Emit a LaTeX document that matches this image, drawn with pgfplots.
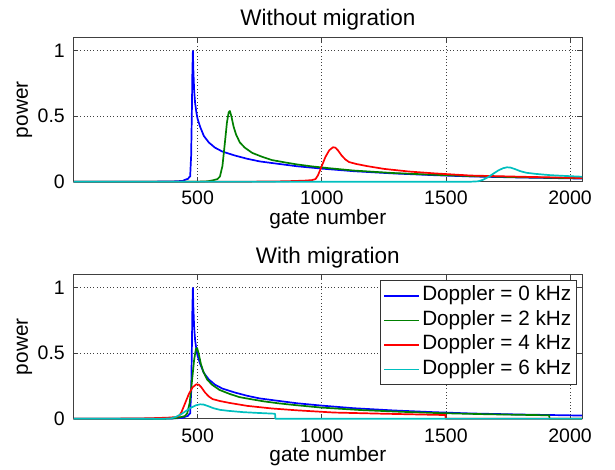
\documentclass[border=0pt]{standalone}
\usepackage{fontspec}
\setmainfont{Liberation Sans}
\usepackage{pgfplots}
\pgfplotsset{compat=1.18}
\usepackage{pgfplotstable}
\definecolor{mblue}{rgb}{0,0,1}
\definecolor{mgreen}{rgb}{0,0.5,0}
\definecolor{mred}{rgb}{1,0,0}
\definecolor{mcyan}{rgb}{0,0.75,0.75}

% ---------- data: Without migration ----------
\pgfplotstableread{
x y
1 0
300 0
400 0.002
440 0.006
450 0.015
458 0.02
462 0.022
466 0.035
470 0.04
474 0.2
477 0.55
479 0.85
481 1.0
483 0.85
486 0.7
490 0.6
495 0.53
500 0.48
510 0.42
525 0.35
545 0.3
570 0.26
600 0.23
650 0.2
700 0.175
750 0.155
810 0.14
900 0.118
1000 0.1
1130 0.08
1290 0.063
1450 0.05
1600 0.04
1800 0.032
2048 0.024
}\blueA
\pgfplotstableread{
x y
1 0
500 0
540 0.003
560 0.01
580 0.02
590 0.04
600 0.12
610 0.3
618 0.45
625 0.53
630 0.54
636 0.5
645 0.42
655 0.36
670 0.3
690 0.26
720 0.22
760 0.19
800 0.165
850 0.148
900 0.132
960 0.117
1030 0.103
1130 0.085
1290 0.066
1450 0.053
1600 0.043
1800 0.034
2048 0.026
}\greenA
\pgfplotstableread{
x y
1 0
700 0
850 0.003
930 0.008
960 0.012
975 0.02
985 0.05
1000 0.12
1015 0.19
1030 0.24
1045 0.263
1055 0.26
1065 0.24
1080 0.2
1095 0.17
1110 0.15
1140 0.135
1180 0.12
1250 0.098
1350 0.078
1450 0.064
1600 0.047
1800 0.038
2048 0.028
}\redA
\pgfplotstableread{
x y
1 0
1600 0
1630 0.003
1650 0.015
1670 0.035
1690 0.06
1710 0.085
1730 0.103
1746 0.11
1760 0.108
1780 0.095
1800 0.08
1825 0.068
1860 0.06
1920 0.05
1980 0.044
2048 0.038
}\cyanA

% ---------- data: With migration ----------
\pgfplotstableread{
x y
1 0
368 0
408 0.003
428 0.01
448 0.02
458 0.04
468 0.12
478 0.3
486 0.45
493 0.53
498 0.54
504 0.5
513 0.42
523 0.36
538 0.3
558 0.26
588 0.22
628 0.19
668 0.165
718 0.148
768 0.132
828 0.117
898 0.103
998 0.085
1158 0.066
1318 0.053
1468 0.043
1668 0.034
1916 0.026
1917 0
2048 0
}\greenB
\pgfplotstableread{
x y
1 0
150 0
300 0.003
380 0.008
410 0.012
425 0.02
435 0.05
450 0.12
465 0.19
480 0.24
495 0.263
505 0.26
515 0.24
530 0.2
545 0.17
560 0.15
590 0.135
630 0.12
700 0.098
800 0.078
900 0.064
1050 0.047
1250 0.038
1498 0.028
1499 0
2048 0
}\redB
\pgfplotstableread{
x y
1 0
364 0
394 0.003
414 0.015
434 0.035
454 0.06
474 0.085
494 0.103
510 0.11
524 0.108
544 0.095
564 0.08
589 0.068
624 0.06
684 0.05
744 0.044
812 0.038
813 0
2048 0
}\cyanB

\pgfplotsset{
 curve/.style={line width=1.7pt, line join=round},
 mystyle/.style={
  scale only axis, width=508.3pt, height=144pt,
  xmin=1, xmax=2048, ymin=0, ymax=1.1,
  xtick={500,1000,1500,2000}, ytick={0,0.5,1},
  tick align=inside, tick pos=both, major tick length=4.7pt,
  grid=major,
  major grid style={black!75, line width=0.6pt, dash pattern=on 0.7pt off 2.6pt},
  axis line style={black!75, line width=0.9pt},
  every tick/.style={black!75, line width=0.8pt},
  /pgf/number format/assume math mode=true,
  /pgf/number format/set thousands separator={},
  tick label style={font=\fontsize{19.5}{23}\selectfont, text=black},
  xticklabel style={anchor=base, inner sep=0pt, yshift=-23.3pt},
  yticklabel style={anchor=east, inner sep=0pt, xshift=-8.7pt},
  xlabel={gate number}, ylabel={power},
  label style={font=\fontsize{20.8}{24}\selectfont},
  xlabel style={at={(axis description cs:0.5,0)}, anchor=base, inner sep=0pt, yshift=-42.6pt},
  ylabel style={at={(axis description cs:0,0.5)}, anchor=center, inner sep=0pt, yshift=49.2pt},
  title style={font=\fontsize{22.5}{26}\selectfont, at={(axis description cs:0.5,1)}, anchor=base, inner sep=0pt},
  clip=false,
}}

\begin{document}
\begin{tikzpicture}[x=1pt,y=1pt]
\path[use as bounding box] (0,0) rectangle (615,469);
\begin{axis}[mystyle, at={(73.7pt,287.3pt)}, anchor=south west,
  title={Without migration}, title style={yshift=6.3pt}]
\addplot[mblue, curve] table[x=x,y=y] {\blueA};
\addplot[mgreen, curve] table[x=x,y=y] {\greenA};
\addplot[mred, curve] table[x=x,y=y] {\redA};
\addplot[mcyan, curve] table[x=x,y=y] {\cyanA};
\end{axis}
\begin{axis}[mystyle, at={(73.7pt,50.3pt)}, anchor=south west,
  title={With migration}, title style={yshift=5pt},
  legend cell align=left,
  legend image code/.code={\draw[#1] (0pt,0pt) -- (35pt,0pt);},
  legend style={at={(1,1)}, anchor=north east, xshift=-5pt, yshift=-5.7pt,
    draw=black!80, line width=0.8pt, fill=white,
    font=\fontsize{20.7}{24}\selectfont,
    inner xsep=3pt, inner ysep=3.2pt, row sep=0pt,
    nodes={inner xsep=2.35pt, inner ysep=2.45pt, text height=14.5pt, text depth=5pt}}]
\addplot[mblue, curve] table[x=x,y=y] {\blueA};
\addplot[mgreen, curve] table[x=x,y=y] {\greenB};
\addplot[mred, curve] table[x=x,y=y] {\redB};
\addplot[mcyan, curve] table[x=x,y=y] {\cyanB};
\legend{Doppler = 0 kHz, Doppler = 2 kHz, Doppler = 4 kHz, Doppler = 6 kHz}
\end{axis}
\end{tikzpicture}
\end{document}
